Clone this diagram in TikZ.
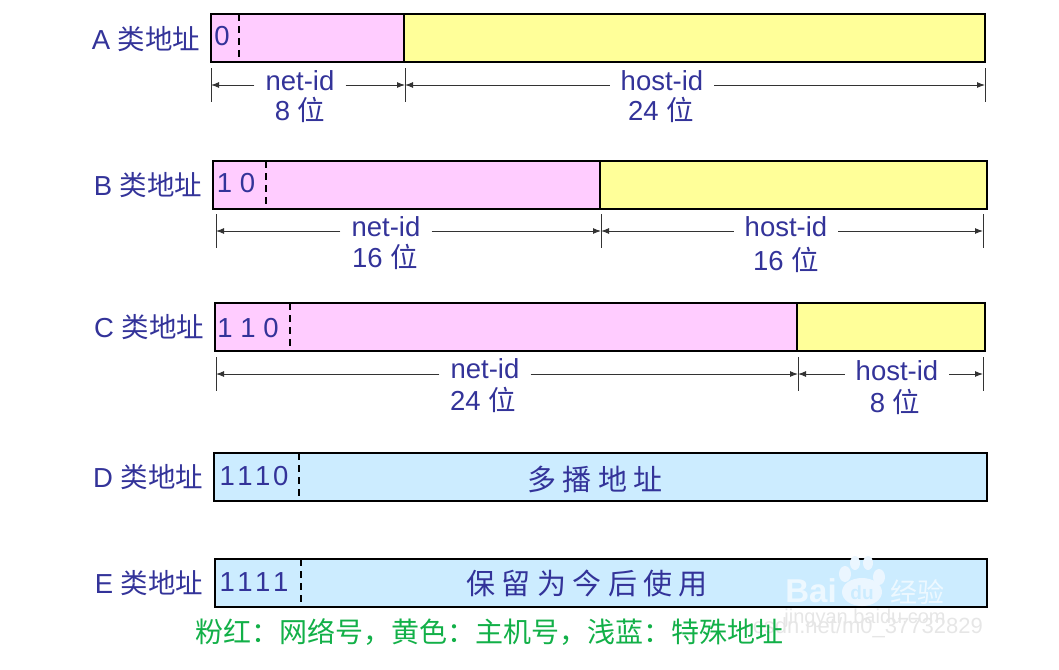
\documentclass[tikz,border=0pt]{standalone}
\usepackage{fontspec}
\usepackage{xcolor}
\setmainfont{Liberation Sans}
\newfontfamily\cjk{Noto Sans CJK SC}
\usetikzlibrary{arrows.meta,calc}
\definecolor{Pink}{HTML}{FFCCFF}
\definecolor{SoftYellow}{HTML}{FFFF99}
\definecolor{SoftBlue}{HTML}{CCECFF}
\definecolor{Ink}{HTML}{333399}
\definecolor{NoteGreen}{HTML}{12B048}
\definecolor{Faint}{HTML}{E6E6E6}
\definecolor{PawWhite}{HTML}{EBF6FF}
\tikzset{
  cell/.style={draw=black,line width=2.6pt,anchor=north west,inner sep=0pt,outer sep=0pt,minimum height=48pt},
  txt/.style={text=Ink,font=\fontsize{27.5}{27.5}\selectfont,inner sep=0pt},
  dimtxt/.style={txt,inner xsep=11pt,text height=19pt,text depth=0pt},
  tick/.style={black!80,line width=1pt},
  span/.style={black!80,line width=1pt,-{Latex[length=8pt,width=6pt]}},
  bitdash/.style={black,line width=2pt,dash pattern=on 7pt off 5pt},
  wmark/.style={text=white,text opacity=0.65,inner sep=0pt},
  paw/.style={fill=PawWhite}
}
\begin{document}
\begin{tikzpicture}[x=1pt,y=-1pt]
  \useasboundingbox (0,0) rectangle (1059,669);
  % class A
  \node[txt] (alabel) at (146,39) {A {\cjk 类地址}};
  \node[cell,fill=Pink,minimum width=193pt] (anet) at (211,14) {};
  \node[cell,fill=SoftYellow,minimum width=581pt] (ahost) at (404,14) {};
  \node[txt] (abits) at (222,36) {0};
  \coordinate (adash) at (239,14);
  \draw[bitdash] (adash) -- (adash |- anet.south);
  \coordinate (at1) at (211,85);
  \coordinate (at2) at (405,85);
  \coordinate (at3) at (985,85);
  \foreach \t in {at1,at2,at3} \draw[tick] ($(\t)+(0,-17)$) -- ($(\t)+(0,17)$);
  \node[dimtxt] (anetid) at (300,81) {net-id};
  \node[txt] (anetlen) at (300,110) {8 {\cjk 位}};
  \node[dimtxt] (ahostid) at (662,81) {host-id};
  \node[txt] (ahostlen) at (661,110) {24 {\cjk 位}};
  \draw[span] (anetid.west |- at1) -- (at1);
  \draw[span] (anetid.east |- at2) -- (at2);
  \draw[span] (ahostid.west |- at2) -- (at2);
  \draw[span] (ahostid.east |- at3) -- (at3);
  % class B
  \node[txt] (blabel) at (148,185) {B {\cjk 类地址}};
  \node[cell,fill=Pink,minimum width=387pt] (bnet) at (213,161) {};
  \node[cell,fill=SoftYellow,minimum width=387pt] (bhost) at (600,161) {};
  \node[txt] (bbits) at (236,183) {1 0};
  \coordinate (bdash) at (266,161);
  \draw[bitdash] (bdash) -- (bdash |- bnet.south);
  \coordinate (bt1) at (216,231);
  \coordinate (bt2) at (601,231);
  \coordinate (bt3) at (983,231);
  \foreach \t in {bt1,bt2,bt3} \draw[tick] ($(\t)+(0,-17)$) -- ($(\t)+(0,17)$);
  \node[dimtxt] (bnetid) at (386,227) {net-id};
  \node[txt] (bnetlen) at (385,257) {16 {\cjk 位}};
  \node[dimtxt] (bhostid) at (786,227) {host-id};
  \node[txt] (bhostlen) at (786,260) {16 {\cjk 位}};
  \draw[span] (bnetid.west |- bt1) -- (bt1);
  \draw[span] (bnetid.east |- bt2) -- (bt2);
  \draw[span] (bhostid.west |- bt2) -- (bt2);
  \draw[span] (bhostid.east |- bt3) -- (bt3);
  % class C
  \node[txt] (clabel) at (149,327) {C {\cjk 类地址}};
  \node[cell,fill=Pink,minimum width=582pt] (cnet) at (215,303) {};
  \node[cell,fill=SoftYellow,minimum width=188pt] (chost) at (797,303) {};
  \node[txt] (cbits) at (248,328) {1 1 0};
  \coordinate (cdash) at (290,303);
  \draw[bitdash] (cdash) -- (cdash |- cnet.south);
  \coordinate (ct1) at (216,374);
  \coordinate (ct2) at (798,374);
  \coordinate (ct3) at (983,374);
  \foreach \t in {ct1,ct2,ct3} \draw[tick] ($(\t)+(0,-17)$) -- ($(\t)+(0,17)$);
  \node[dimtxt] (cnetid) at (485,369) {net-id};
  \node[txt] (cnetlen) at (483,400) {24 {\cjk 位}};
  \node[dimtxt] (chostid) at (897,371) {host-id};
  \node[txt] (chostlen) at (895,402) {8 {\cjk 位}};
  \draw[span] (cnetid.west |- ct1) -- (ct1);
  \draw[span] (cnetid.east |- ct2) -- (ct2);
  \draw[span] (chostid.west |- ct2) -- (ct2);
  \draw[span] (chostid.east |- ct3) -- (ct3);
  % class D
  \node[txt] (dlabel) at (148,477) {D {\cjk 类地址}};
  \node[cell,fill=SoftBlue,minimum width=773pt] (dbox) at (214,453) {};
  \node[txt] (dbits) at (254,476) {1\kern2.5pt 1\kern2.5pt 1\kern2.5pt 0};
  \coordinate (ddash) at (299,453);
  \draw[bitdash] (ddash) -- (ddash |- dbox.south);
  \node[txt,font=\fontsize{29}{29}\selectfont] (dtext) at (595,479) {\cjk 多 播 地 址};
  % class E
  \node[txt] (elabel) at (149,583) {E {\cjk 类地址}};
  \node[cell,fill=SoftBlue,minimum width=772pt] (ebox) at (215,559) {};
  \node[txt] (ebits) at (254,582) {1\kern2.5pt 1\kern2.5pt 1\kern2.5pt 1};
  \coordinate (edash) at (301,559);
  \draw[bitdash] (edash) -- (edash |- ebox.south);
  \node[txt,font=\fontsize{29}{29}\selectfont] (etext) at (587,583) {\cjk 保 留 为 今 后 使 用};
  % footer and watermarks
  \node[text=Faint,inner sep=0pt,font=\fontsize{22}{22}\selectfont,anchor=east] (csdnmark) at (983,628) {csdn.net/m0\_37732829};
  \node[text=Faint,inner sep=0pt,font=\fontsize{20}{20}\selectfont] (baidusite) at (865,618) {jingyan.baidu.com};
  \fill[paw] (845,574) ellipse (6 and 8);
  \fill[paw] (855,563) ellipse (5 and 7);
  \fill[paw] (868,563) ellipse (5 and 7);
  \fill[paw] (879,577) ellipse (6 and 8);
  \fill[paw] (862,592) ellipse (20 and 14);
  \node[wmark,font=\bfseries\fontsize{33}{33}\selectfont] (baidumark) at (811,591) {Bai};
  \node[text=SoftBlue,inner sep=0pt,font=\bfseries\fontsize{19}{19}\selectfont] (dumark) at (862,593) {du};
  \node[wmark,font=\cjk\fontsize{27}{27}\selectfont] (baidujy) at (917,592) {经验};
  \node[text=NoteGreen,inner sep=0pt,font=\cjk\fontsize{28}{28}\selectfont] (note) at (489,632) {粉红：网络号，黄色：主机号，浅蓝：特殊地址};
\end{tikzpicture}
\end{document}
